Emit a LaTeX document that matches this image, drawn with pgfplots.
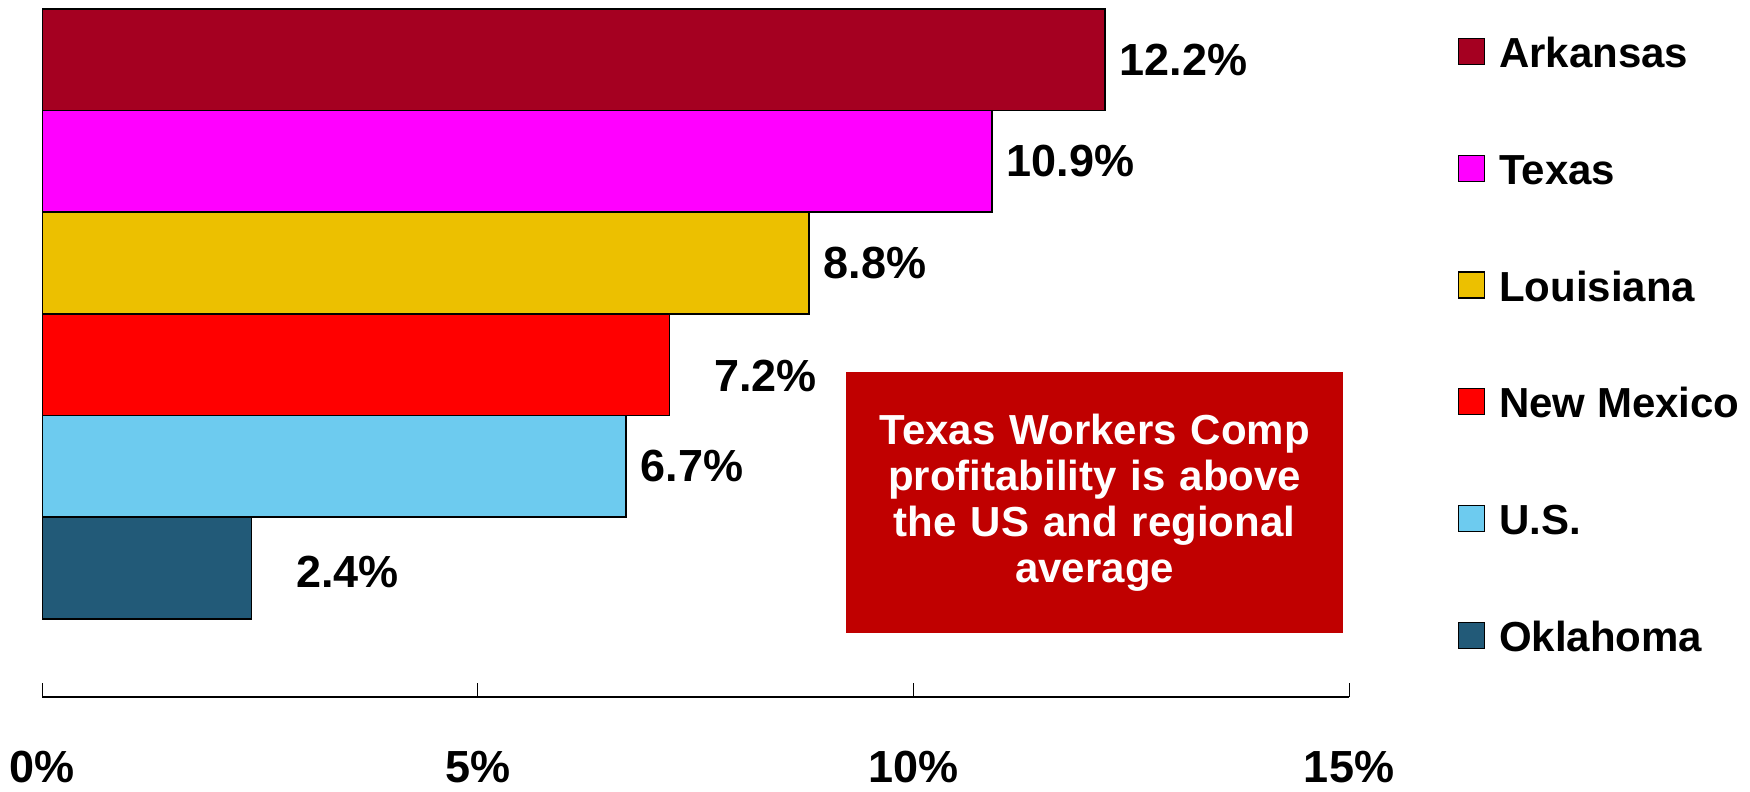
\documentclass[border=0pt]{standalone}
\usepackage{fontspec}
\setmainfont{Liberation Sans}
\usepackage{pgfplots}
\pgfplotsset{compat=1.18}
\definecolor{arkC}{HTML}{A50021}
\definecolor{texC}{HTML}{FF00FF}
\definecolor{louC}{HTML}{ECC000}
\definecolor{nmC}{HTML}{FF0000}
\definecolor{usC}{HTML}{6DCBEF}
\definecolor{okC}{HTML}{225A78}
\definecolor{boxC}{HTML}{C00000}
\pgfplotsset{legsq/.style={legend image code/.code={\draw[##1,line width=0.6pt] (0pt,-6pt) rectangle (13pt,7pt);}}}
\begin{document}
\begin{tikzpicture}
\useasboundingbox (-21.2pt,-47.5pt) rectangle (853.8pt,348.5pt);
\begin{axis}[
  scale only axis, width=653.3pt, height=344pt,
  xmin=0, xmax=15, ymin=-1.27, ymax=5.5,
  axis x line=bottom, axis y line=none,
  axis line style={-, line width=1pt, black},
  xtick={0,5,10,15}, xticklabels={0\%,5\%,10\%,15\%},
  tick align=inside, major tick length=7pt,
  major tick style={line width=0.5pt, black},
  xticklabel style={font=\fontsize{22.5}{27}\selectfont\bfseries, yshift=-23.5pt},
  ytick=\empty,
  xbar, bar width=1, bar shift=0pt,
  clip=false,
  nodes near coords={\pgfmathprintnumber[fixed,precision=1,fixed zerofill,assume math mode=true]{\pgfplotspointmeta}\%},
  nodes near coords style={font=\fontsize{22.5}{27}\selectfont\bfseries, anchor=west, inner sep=0pt, xshift=7pt, text=black},
  legend cell align=left,
  legend style={at={(1.0834,0.9587)}, anchor=north west, draw=none, fill=none,
    inner sep=0pt, outer sep=0pt, row sep=43.4pt, column sep=7pt,
    font=\fontsize{21}{25}\selectfont\bfseries,
    nodes={inner sep=0pt, text height=15pt, text depth=0pt}},
]
\addplot[fill=arkC, draw=black, line width=0.8pt, bar shift=0pt, legsq] coordinates {(12.2,5)};
\addlegendentry{Arkansas}
\addplot[fill=texC, draw=black, line width=0.8pt, bar shift=0pt, legsq] coordinates {(10.9,4)};
\addlegendentry{Texas}
\addplot[fill=louC, draw=black, line width=0.8pt, bar shift=0pt, legsq] coordinates {(8.8,3)};
\addlegendentry{Louisiana}
\addplot[fill=nmC, draw=black, line width=0.8pt, bar shift=0pt, legsq, nodes near coords style={xshift=15pt, yshift=-5.5pt}] coordinates {(7.2,2)};
\addlegendentry{New Mexico}
\addplot[fill=usC, draw=black, line width=0.8pt, bar shift=0pt, legsq] coordinates {(6.7,1)};
\addlegendentry{U.S.}
\addplot[fill=okC, draw=black, line width=0.8pt, bar shift=0pt, legsq, nodes near coords style={xshift=15pt, yshift=-2pt}] coordinates {(2.4,0)};
\addlegendentry{Oklahoma}
\node[fill=boxC, text=white, minimum width=248.5pt, minimum height=130.5pt,
  text width=240pt, align=center, inner sep=0pt,
  font=\fontsize{21}{23}\selectfont\bfseries] at (axis cs:12.08,0.645)
  {Texas Workers Comp\\ profitability is above\\ the US and regional\\ average};
\end{axis}
\end{tikzpicture}
\end{document}
